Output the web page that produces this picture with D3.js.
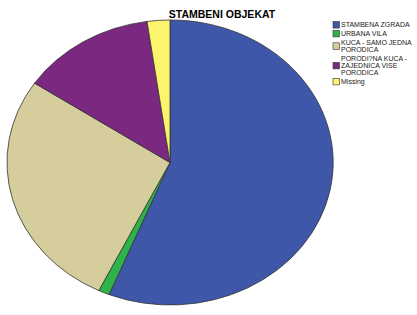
<!DOCTYPE html>
<html>
<head>
<meta charset="utf-8">
<script src="https://cdn.jsdelivr.net/npm/d3@7"></script>
<style>
  body { margin: 0; background: #fff; }
  svg { display: block; font-family: "Liberation Sans", Arial, sans-serif; }
</style>
</head>
<body>
<div id="chart"></div>
<script>
const categories = ["STAMBENA ZGRADA", "URBANA VILA", "KUCA - SAMO JEDNA PORODICA", "PORODI?NA KUCA - ZAJEDNICA VISE PORODICA", "Missing"];
const legendLines = [["STAMBENA ZGRADA"], ["URBANA VILA"], ["KUCA - SAMO JEDNA", "PORODICA"], ["PORODI?NA KUCA -", "ZAJEDNICA VISE", "PORODICA"], ["Missing"]];
const values = [56.1, 1.1, 27.2, 13.35, 2.25];
const colors = ["#3e57a9", "#2db34a", "#d5cd9b", "#7b2880", "#fbf46c"];

const width = 417,
    height = 315,
    cx = 170, cy = 162.5,
    rx = 163, ry = 142.5;

const svg = d3.select("#chart").append("svg")
    .attr("width", width)
    .attr("height", height);

svg.append("text")
    .attr("x", 222)
    .attr("y", 18)
    .attr("text-anchor", "middle")
    .style("font-weight", "bold")
    .style("font-size", "10.5px")
    .text("STAMBENI OBJEKAT");

const pie = d3.pie().sort(null).value(function(d) { return d; });
const arc = d3.arc().innerRadius(0).outerRadius(1);

// unit pie stretched into an ellipse
svg.append("g")
    .attr("transform", "translate(" + cx + "," + cy + ") scale(" + rx + "," + ry + ")")
  .selectAll("path")
    .data(pie(values))
  .enter().append("path")
    .attr("d", arc)
    .attr("fill", function(d, i) { return colors[i]; })
    .attr("stroke", "#333")
    .attr("stroke-width", 0.8)
    .attr("vector-effect", "non-scaling-stroke");

// legend
const lineH = 7.2, gap = 1.6;
let yPos = 21.5;
const legend = svg.append("g").style("font-size", "7px").style("fill", "#222");
legendLines.forEach(function(lines, i) {
  const h = lines.length * lineH;
  const mid = yPos + h / 2;
  legend.append("rect")
      .attr("x", 333)
      .attr("y", mid - 3.5)
      .attr("width", 6.5)
      .attr("height", 6.5)
      .attr("fill", colors[i])
      .attr("stroke", "#333")
      .attr("stroke-width", 0.6);
  lines.forEach(function(t, j) {
    legend.append("text")
        .attr("x", 341)
        .attr("y", yPos + j * lineH + 5.8)
        .text(t);
  });
  yPos += h + gap;
});
</script>
</body>
</html>
